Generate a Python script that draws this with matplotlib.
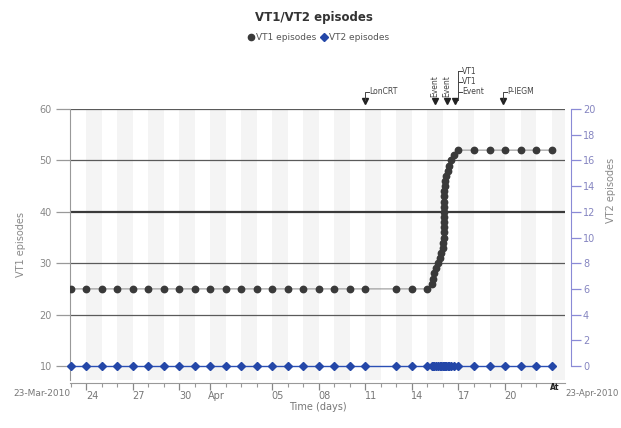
import datetime as dt
import matplotlib
matplotlib.use("Agg")
import matplotlib.pyplot as plt
import matplotlib.dates as mdates
from matplotlib.lines import Line2D
from matplotlib.transforms import ScaledTranslation

# episode times, in days after 23-Mar-2010 00:00
start = dt.datetime(2010, 3, 23)
ep_days = [0, 1, 2, 3, 4, 5, 6, 7, 8, 9, 10, 11, 12, 13, 14, 15, 16, 17, 18, 19,
           21, 22, 23.0,
           23.3, 23.35, 23.4, 23.55, 23.7, 23.8, 23.9, 24.0, 24.03,
           24.05, 24.055, 24.06, 24.065, 24.07, 24.075, 24.08, 24.085, 24.09, 24.095, 24.1,
           24.15, 24.2, 24.3, 24.4, 24.5, 24.7, 24.95,
           26, 27, 28, 29, 30, 31]
vt1_episodes = [25, 25, 25, 25, 25, 25, 25, 25, 25, 25, 25, 25, 25, 25, 25, 25, 25, 25, 25, 25,
                25, 25, 25,
                26, 27, 28, 29, 30, 31, 32, 33, 34,
                35, 36, 37, 38, 39, 40, 41, 42, 43, 44, 45,
                46, 47, 48, 49, 50, 51, 52,
                52, 52, 52, 52, 52, 52]
vt2_episodes = [0, 0, 0, 0, 0, 0, 0, 0, 0, 0, 0, 0, 0, 0, 0, 0, 0, 0, 0, 0,
                0, 0, 0,
                0, 0, 0, 0, 0, 0, 0, 0, 0,
                0, 0, 0, 0, 0, 0, 0, 0, 0, 0, 0,
                0, 0, 0, 0, 0, 0, 0,
                0, 0, 0, 0, 0, 0]

# x tick labels
tick_days = [1, 4, 7, 9, 13, 16, 19, 22, 25, 28]
tick_labels = ["24", "27", "30", "Apr", "05", "08", "11", "14", "17", "20"]

# event markers above the plot
event_days = [19, 23.5, 24.25, 24.8, 27.9]
event_labels = ["LonCRT", "Event", "Event", "VT1\nVT1\nEvent", "P-IEGM"]

t0 = mdates.date2num(start)
x = [t0 + d for d in ep_days]

fig = plt.figure(figsize=(6.21, 4.28), dpi=100)
ax = fig.add_axes([70 / 621, 48 / 428, 495 / 621, 271 / 428])

# faint day stripes
for d in range(0, 32, 2):
    ax.axvspan(t0 + d + 1, t0 + d + 2, color="#f4f4f4", lw=0, zorder=0)

for yv in [20, 30, 50, 60]:
    ax.axhline(yv, color="#5a5a5a", lw=0.9, zorder=1)
ax.axhline(40, color="#3a3a3a", lw=1.6, zorder=1)

ax.plot(x, vt1_episodes, color="#888888", lw=0.7, marker="o", ms=4.6,
        mfc="#3a3a3a", mec="#3a3a3a", zorder=3)

ax2 = ax.twinx()
ax2.plot(x, vt2_episodes, color="#2a4fb5", lw=1.0, marker="D", ms=3.6,
         mfc="#2447a8", mec="#2447a8", zorder=3, clip_on=False)

ax.set_xlim(t0 - 0.06, t0 + 31.87)
ax.set_ylim(7.28, 60)
ax2.set_ylim((7.28 - 10) / 2.5, 20)

# left axis
ax.set_yticks([10, 20, 30, 40, 50, 60])
ax.tick_params(axis="y", colors="#999999", labelcolor="#888888", labelsize=7,
               length=10, width=0.9, pad=3)
ax.set_ylabel("VT1 episodes", color="#888888", fontsize=7, labelpad=10)
for s in ["top", "right"]:
    ax.spines[s].set_visible(False)
ax.spines["left"].set_color("#999999")
ax.spines["bottom"].set_color("#999999")
ax.spines["bottom"].set_position(("outward", 2))

# right axis
ax2.set_yticks(range(0, 21, 2))
ax2.spines["right"].set_bounds(0, 20)
ax2.spines["right"].set_position(("outward", 4))
ax2.spines["right"].set_color("#8a8ad6")
for s in ["top", "left", "bottom"]:
    ax2.spines[s].set_visible(False)
ax2.tick_params(axis="y", colors="#8a8ad6", labelcolor="#8585c0", labelsize=7,
                length=7, width=0.9, pad=2)
fig.text(0.984, 0.555, "VT2 episodes", rotation=90, color="#888888",
         fontsize=7, ha="center", va="center")

# x axis
ax.set_xticks([t0 + d for d in tick_days])
ax.set_xticklabels(tick_labels)
ax.set_xticks([t0 + d for d in range(0, 32)], minor=True)
ax.tick_params(axis="x", which="major", colors="#888888", labelcolor="#777777",
               labelsize=7, length=5, width=0.9, pad=1)
ax.tick_params(axis="x", which="minor", colors="#999999", length=3, width=0.8)
off = ScaledTranslation(4 / 72, 0, fig.dpi_scale_trans)
for lbl in ax.get_xticklabels():
    lbl.set_transform(lbl.get_transform() + off)
xt = ax.get_xaxis_transform()
ax.text(t0, -0.05, "23-Mar-2010", transform=xt, ha="right", va="center",
        fontsize=6.5, color="#777777")
ax.text(t0 + 31.87, -0.05, "23-Apr-2010", transform=xt, ha="left", va="center",
        fontsize=6.2, color="#777777")
ax.set_xlabel("Time (days)", color="#777777", fontsize=7, labelpad=1)
ax.text(t0 + 30.9, -0.01, "At", transform=xt, ha="left", va="top",
        fontsize=5.5, fontweight="bold", color="#222222")

# events
for d, lab in zip(event_days, event_labels):
    ax.plot([t0 + d], [1.03], transform=xt, marker="v", ms=4.5, color="#222222",
            clip_on=False)
    if lab == "Event":
        ax.text(t0 + d, 1.045, lab, transform=xt, rotation=90, ha="center",
                va="bottom", fontsize=5.5, color="#444444")
    elif "\n" in lab:
        bx = t0 + d + 0.2
        ax.plot([bx, bx], [1.035, 1.14], transform=xt, color="#444444", lw=0.7,
                clip_on=False)
        for yy, tt in zip([1.14, 1.10, 1.063], lab.split("\n")):
            ax.plot([bx, bx + 0.2], [yy, yy], transform=xt, color="#444444",
                    lw=0.7, clip_on=False)
            ax.text(bx + 0.25, yy, tt, transform=xt, ha="left", va="center",
                    fontsize=5.5, color="#444444")
    else:
        ax.plot([t0 + d, t0 + d, t0 + d + 0.2], [1.035, 1.063, 1.063],
                transform=xt, color="#444444", lw=0.7, clip_on=False)
        ax.text(t0 + d + 0.25, 1.063, lab, transform=xt, ha="left", va="center",
                fontsize=5.5, color="#444444")

fig.text(0.505, 0.958, "VT1/VT2 episodes", ha="center", va="center",
         fontsize=8.5, fontweight="bold", color="#333333")
handles = [Line2D([], [], ls="", marker="o", ms=4.5, color="#3a3a3a"),
           Line2D([], [], ls="", marker="D", ms=4, color="#2447a8")]
fig.legend(handles, ["VT1 episodes", "VT2 episodes"], loc="center",
           bbox_to_anchor=(0.512, 0.913), ncol=2, frameon=False, fontsize=6.5,
           handletextpad=0.1, columnspacing=0.3, handlelength=1.0,
           labelcolor="#555555")

fig.savefig("out.png", dpi=100)
